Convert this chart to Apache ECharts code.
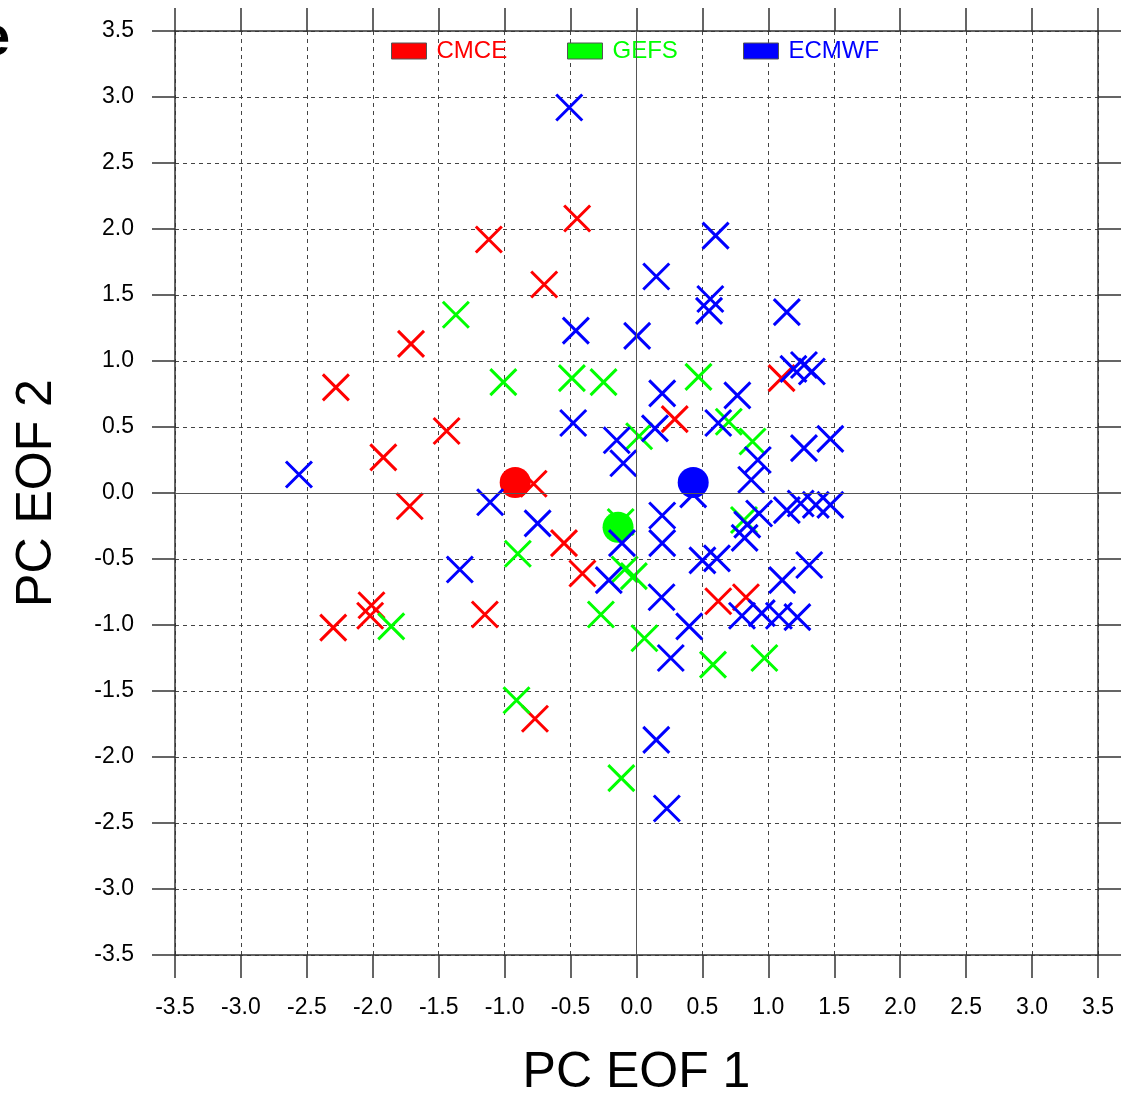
<!DOCTYPE html>
<html>
<head>
<meta charset="utf-8">
<script src="https://cdn.jsdelivr.net/npm/echarts/dist/echarts.min.js"></script>
<style>
  html, body { margin: 0; padding: 0; background: #fff; }
  #main { width: 1124px; height: 1103px; }
</style>
</head>
<body>
<div id="main"></div>
<script>
// CMCE members
var cmceX = [-0.45, -1.12, -0.70, -1.71, -2.28, -1.44, -1.92, -0.78, -1.72, -2.30, -2.02, -2.01, -1.15, -0.77, -0.55, -0.41, 0.29, 1.10, 0.62, 0.83];
var cmceY = [2.08, 1.92, 1.58, 1.13, 0.80, 0.47, 0.27, 0.07, -0.10, -1.02, -0.93, -0.85, -0.92, -1.71, -0.38, -0.61, 0.56, 0.87, -0.82, -0.79];

// GEFS members
var gefsX = [-1.37, -1.01, -0.49, -0.25, 0.47, 0.02, 0.70, 0.88, -0.90, -0.12, 0.815, -0.09, -0.02, -0.27, 0.06, 0.58, 0.97, -0.91, -0.115, -1.86];
var gefsY = [1.35, 0.84, 0.87, 0.84, 0.88, 0.43, 0.54, 0.39, -0.46, -0.22, -0.205, -0.58, -0.63, -0.92, -1.10, -1.30, -1.25, -1.57, -2.16, -1.01];

// ECMWF members
var ecmwfX = [-0.51, 0.15, 0.60, 0.56, 0.55, 1.14, -0.46, 0.005, 1.19, 1.27, 1.33, 0.765, 0.195, -0.48, -0.15, -0.10, 0.14, 0.62,
  0.92, 0.87, 1.27, 1.47, 0.43, -0.75, -1.11, -1.34, -2.56, -0.11, 0.195, 0.195, 0.50, 0.61, 0.93, 0.84, 0.82, 1.14, 1.245, 1.36,
  1.47, 1.31, 1.105, 0.19, 0.40, 0.80, 0.95, 1.08, 1.22, -0.21, 0.15, 0.23, 0.26];
var ecmwfY = [2.92, 1.64, 1.95, 1.47, 1.38, 1.37, 1.23, 1.19, 0.94, 0.97, 0.92, 0.74, 0.755, 0.53, 0.40, 0.225, 0.49, 0.53,
  0.25, 0.10, 0.34, 0.41, -0.01, -0.23, -0.07, -0.58, 0.14, -0.38, -0.17, -0.38, -0.51, -0.495, -0.155, -0.24, -0.34, -0.13, -0.08, -0.09,
  -0.09, -0.545, -0.66, -0.79, -1.01, -0.93, -0.91, -0.93, -0.94, -0.66, -1.87, -2.39, -1.25];

// ensemble means: CMCE, GEFS, ECMWF
var meanX = [-0.92, -0.14, 0.43];
var meanY = [0.08, -0.26, 0.08];

var names = ['CMCE', 'GEFS', 'ECMWF'];
var colors = ['#ff0000', '#00ff00', '#0000ff'];

var axMin = -3.5, axMax = 3.5, axStep = 0.5;

function zip(xs, ys) {
  var out = [];
  for (var i = 0; i < xs.length; i++) out.push([xs[i], ys[i]]);
  return out;
}

var cross = 'path://M0,0L10,10M10,0L0,10';

function members(name, color, xs, ys) {
  return {
    name: name,
    type: 'scatter',
    symbol: cross,
    symbolSize: 26,
    itemStyle: { color: color, borderColor: color, borderWidth: 3, opacity: 1 },
    data: zip(xs, ys)
  };
}

function meanDot(i) {
  return {
    name: names[i] + ' mean',
    type: 'scatter',
    symbol: 'circle',
    symbolSize: 31,
    itemStyle: { color: colors[i], opacity: 1 },
    data: [[meanX[i], meanY[i]]]
  };
}

var chart = echarts.init(document.getElementById('main'), null, { renderer: 'canvas' });

var font = '"Liberation Sans", Arial, Helvetica, sans-serif';
var lineCol = '#333';

function baseAxis(extra) {
  var a = {
    type: 'value',
    min: axMin,
    max: axMax,
    interval: axStep,
    axisLine: { show: true, onZero: false, lineStyle: { color: lineCol, width: 1.5 } },
    axisTick: { show: true, inside: false, length: 23, lineStyle: { color: lineCol, width: 1.5 } },
    axisLabel: { show: false },
    splitLine: { show: false }
  };
  return Object.assign(a, extra);
}

var gridLines = { show: true, lineStyle: { color: '#444', width: 1, type: [4, 4] } };
var tickLabel = {
  show: true, margin: 41, fontSize: 23, color: '#000', fontFamily: font,
  formatter: function (v) { return v.toFixed(1); }
};

var legends = [];
var legendLeft = [391, 567, 743];
for (var i = 0; i < 3; i++) {
  legends.push({
    data: [{ name: names[i], itemStyle: { color: colors[i], borderColor: '#555', borderWidth: 1, opacity: 1 } }],
    left: legendLeft[i],
    top: 39,
    padding: 0,
    icon: 'rect',
    itemWidth: 35,
    itemHeight: 16,
    selectedMode: false,
    textStyle: { color: colors[i], fontSize: 24, fontFamily: font, padding: [0, 0, 0, 5] }
  });
}

var series = [
  members('CMCE', colors[0], cmceX, cmceY),
  members('GEFS', colors[1], gefsX, gefsY),
  meanDot(0),
  meanDot(1),
  members('ECMWF', colors[2], ecmwfX, ecmwfY),
  meanDot(2)
];
series[0].markLine = {
  silent: true,
  symbol: ['none', 'none'],
  label: { show: false },
  lineStyle: { type: 'solid', color: '#555', width: 1 },
  data: [{ xAxis: 0 }, { yAxis: 0 }]
};

var option = {
  animation: false,
  backgroundColor: '#fff',
  grid: { left: 175, right: 26, top: 31, bottom: 148, containLabel: false, outerBoundsMode: 'none' },
  graphic: [{
    type: 'text', left: -21, top: 12,
    style: { text: 'e', fontSize: 56, fontWeight: 'bold', fontFamily: font, fill: '#000' }
  }],
  legend: legends,
  xAxis: [
    baseAxis({
      position: 'bottom',
      axisLabel: tickLabel,
      splitLine: gridLines,
      name: 'PC EOF 1',
      nameLocation: 'middle',
      nameGap: 93,
      nameMoveOverlap: false,
      nameTextStyle: { fontSize: 50, color: '#000', fontFamily: font }
    }),
    baseAxis({ position: 'top' })
  ],
  yAxis: [
    baseAxis({
      position: 'left',
      axisLabel: tickLabel,
      splitLine: gridLines,
      name: 'PC EOF 2',
      nameLocation: 'middle',
      nameGap: 113,
      nameMoveOverlap: false,
      nameTextStyle: { fontSize: 50, color: '#000', fontFamily: font }
    }),
    baseAxis({ position: 'right' })
  ],
  series: series
};

chart.setOption(option);
</script>
</body>
</html>
